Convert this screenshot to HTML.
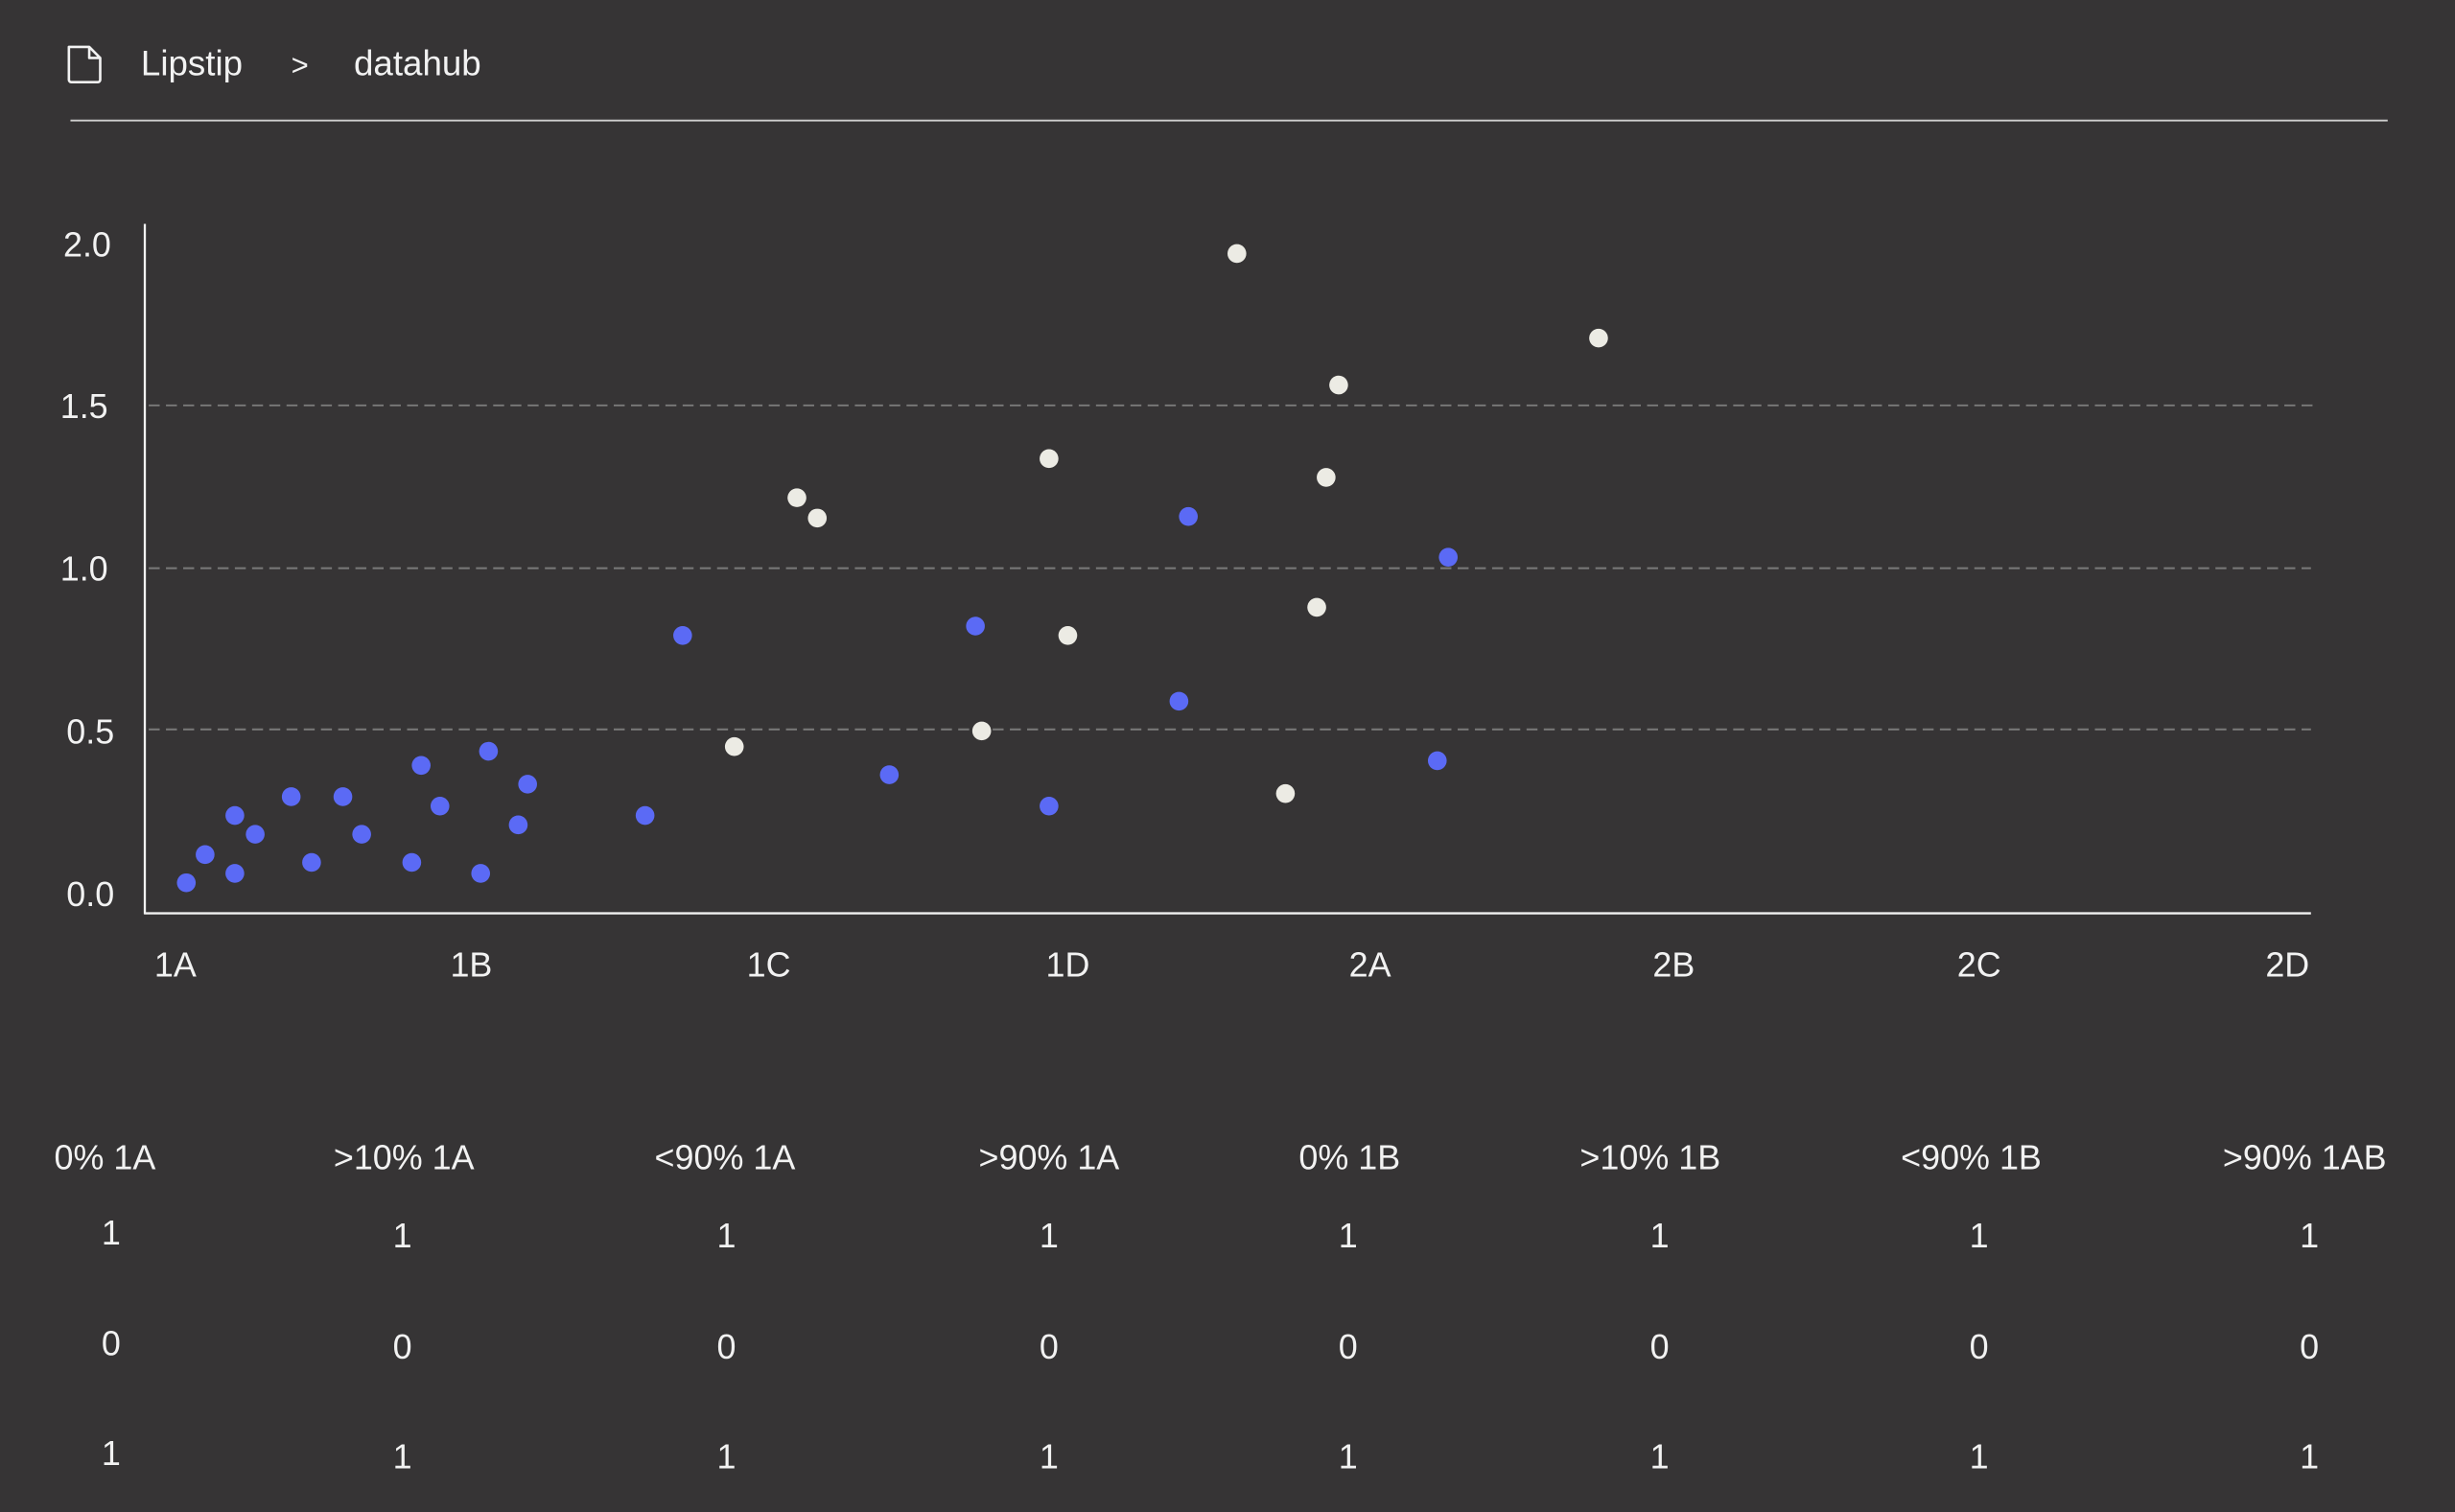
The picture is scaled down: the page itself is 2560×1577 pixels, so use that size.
<!DOCTYPE html>
<html><head><meta charset="utf-8"><style>
html,body{margin:0;padding:0;background:#363435;}
svg{display:block;}
text{font-family:"Liberation Sans",sans-serif;fill:#f2f2f2;}
</style></head><body>
<svg width="2560" height="1577" viewBox="0 0 1568 966" preserveAspectRatio="none" xmlns="http://www.w3.org/2000/svg">
<rect width="1568" height="966" fill="#363435"/>
<path d="M44 30 h13 l7 7 v14 a1.5 1.5 0 0 1 -1.5 1.5 h-17 a1.5 1.5 0 0 1 -1.5 -1.5 z M57 30 v7 h7" fill="none" stroke="#f2f2f2" stroke-width="1.6" stroke-linejoin="round"/>
<text x="90" y="48" font-size="22.5">Lipstip</text>
<text x="186" y="48" font-size="19">&gt;</text>
<text x="226" y="48" font-size="22.5">datahub</text>
<line x1="45" y1="77" x2="1525" y2="77" stroke="#cfcfcf" stroke-width="1.2"/>
<g stroke="#7a7a7a" stroke-width="1.2" stroke-dasharray="7,4">
<line x1="95" y1="259" x2="1480" y2="259"/>
<line x1="95" y1="363" x2="1476" y2="363"/>
<line x1="95" y1="466" x2="1476" y2="466"/>
</g>
<line x1="92.5" y1="143" x2="92.5" y2="584" stroke="#f2f2f2" stroke-width="1.4"/>
<line x1="92" y1="583.5" x2="1476" y2="583.5" stroke="#f2f2f2" stroke-width="1.4"/>
<g font-size="22" text-anchor="end">
<text x="71" y="164">2.0</text>
<text x="69" y="267">1.5</text>
<text x="69" y="371">1.0</text>
<text x="73" y="475">0.5</text>
<text x="73" y="579">0.0</text>
</g>
<g font-size="22" text-anchor="middle">
<text x="112" y="624">1A</text><text x="301" y="624">1B</text><text x="491" y="624">1C</text><text x="682" y="624">1D</text>
<text x="875" y="624">2A</text><text x="1069" y="624">2B</text><text x="1264" y="624">2C</text><text x="1461" y="624">2D</text>
</g>
<g fill="#5b6af5">
<circle cx="119" cy="564" r="6"/><circle cx="131" cy="546" r="6"/><circle cx="150" cy="521" r="6"/><circle cx="150" cy="558" r="6"/>
<circle cx="163" cy="533" r="6"/><circle cx="186" cy="509" r="6"/><circle cx="199" cy="551" r="6"/><circle cx="219" cy="509" r="6"/>
<circle cx="231" cy="533" r="6"/><circle cx="263" cy="551" r="6"/><circle cx="269" cy="489" r="6"/><circle cx="281" cy="515" r="6"/>
<circle cx="307" cy="558" r="6"/><circle cx="312" cy="480" r="6"/><circle cx="331" cy="527" r="6"/><circle cx="337" cy="501" r="6"/>
<circle cx="412" cy="521" r="6"/><circle cx="436" cy="406" r="6"/><circle cx="568" cy="495" r="6"/><circle cx="623" cy="400" r="6"/>
<circle cx="670" cy="515" r="6"/><circle cx="753" cy="448" r="6"/><circle cx="759" cy="330" r="6"/><circle cx="918" cy="486" r="6"/>
<circle cx="925" cy="356" r="6"/>
</g>
<g fill="#ecebe4">
<circle cx="469" cy="477" r="6"/><circle cx="509" cy="318" r="6"/><circle cx="522" cy="331" r="6"/><circle cx="627" cy="467" r="6"/>
<circle cx="670" cy="293" r="6"/><circle cx="682" cy="406" r="6"/><circle cx="790" cy="162" r="6"/><circle cx="821" cy="507" r="6"/>
<circle cx="841" cy="388" r="6"/><circle cx="847" cy="305" r="6"/><circle cx="855" cy="246" r="6"/><circle cx="1021" cy="216" r="6"/>
</g>
<g font-size="22" text-anchor="middle">
<text x="67" y="747">0% 1A</text><text x="258" y="747">&gt;10% 1A</text><text x="463" y="747">&lt;90% 1A</text><text x="670" y="747">&gt;90% 1A</text>
<text x="862" y="747">0% 1B</text><text x="1054" y="747">&gt;10% 1B</text><text x="1259" y="747">&lt;90% 1B</text><text x="1472" y="747">&gt;90% 1AB</text>
<text x="71" y="795">1</text><text x="257" y="797">1</text><text x="464" y="797">1</text><text x="670" y="797">1</text><text x="861" y="797">1</text><text x="1060" y="797">1</text><text x="1264" y="797">1</text><text x="1475" y="797">1</text>
<text x="71" y="866">0</text><text x="257" y="868">0</text><text x="464" y="868">0</text><text x="670" y="868">0</text><text x="861" y="868">0</text><text x="1060" y="868">0</text><text x="1264" y="868">0</text><text x="1475" y="868">0</text>
<text x="71" y="936">1</text><text x="257" y="938">1</text><text x="464" y="938">1</text><text x="670" y="938">1</text><text x="861" y="938">1</text><text x="1060" y="938">1</text><text x="1264" y="938">1</text><text x="1475" y="938">1</text>
</g>
</svg>
</body></html>
